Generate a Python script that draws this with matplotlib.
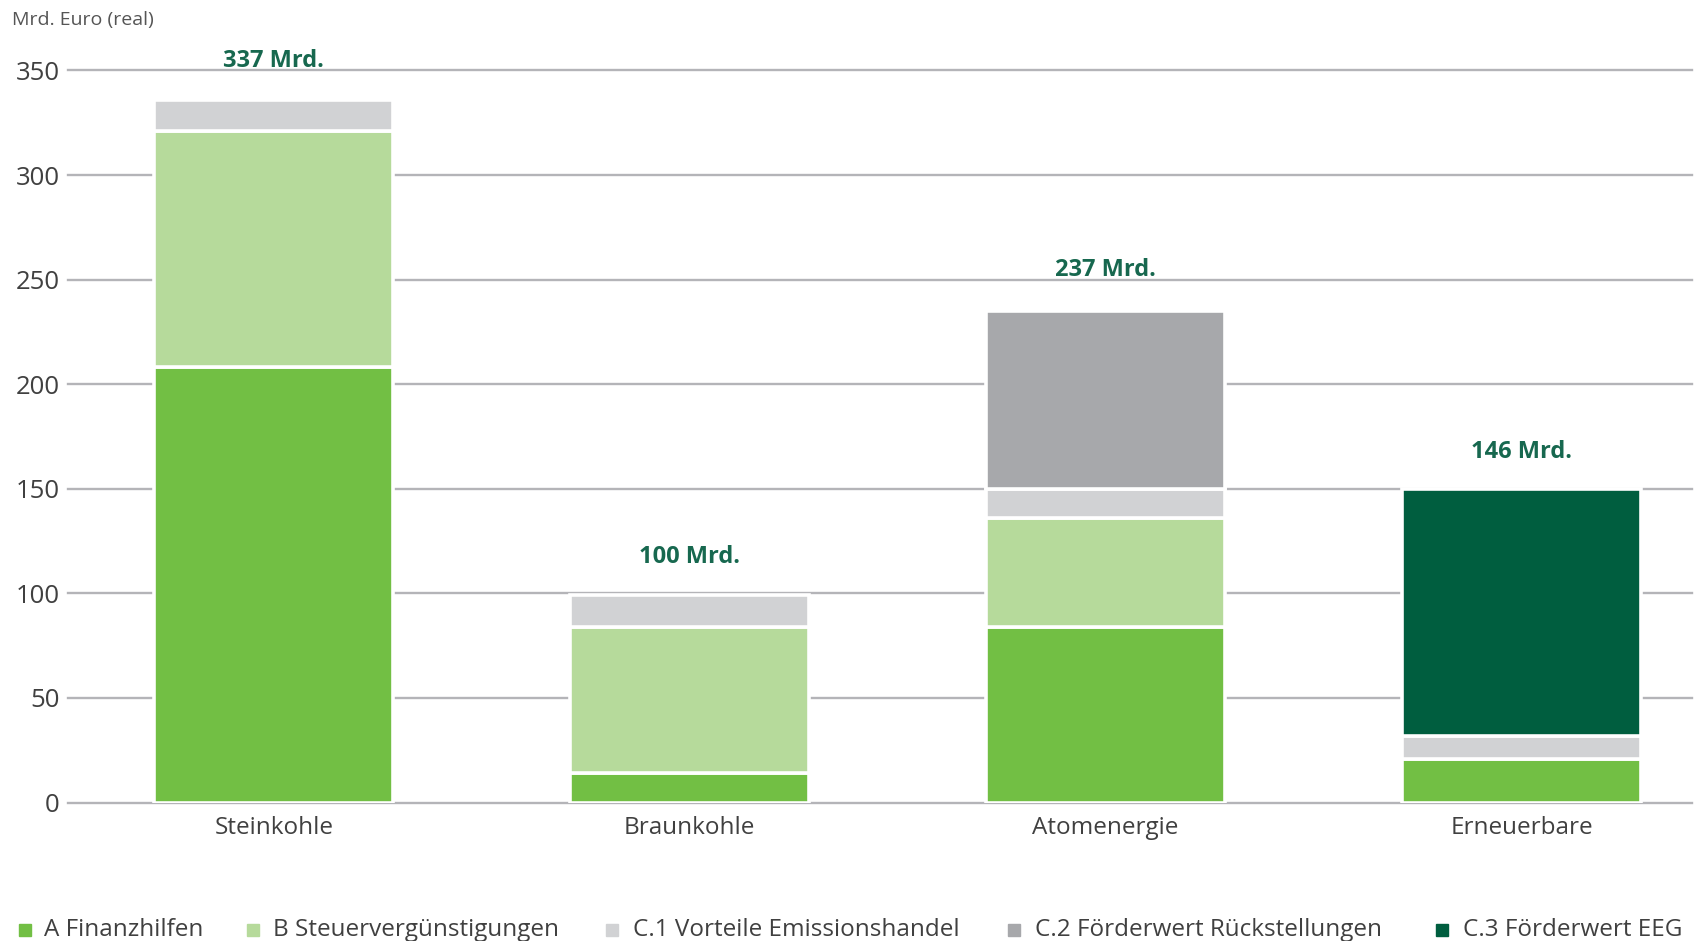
import matplotlib
matplotlib.use("Agg")
import matplotlib.pyplot as plt
from matplotlib.patches import Rectangle
import numpy as np

plt.rcParams['font.family'] = ['Open Sans', 'DejaVu Sans']

categories = ["Steinkohle", "Braunkohle", "Atomenergie", "Erneuerbare"]
series_names = ["A Finanzhilfen", "B Steuervergünstigungen", "C.1 Vorteile Emissionshandel",
                "C.2 Förderwert Rückstellungen", "C.3 Förderwert EEG"]
A_finanzhilfen = [208, 14, 84, 21]
B_steuer = [113, 70, 52, 0]
C1_emission = [15, 15, 14, 11]
C2_rueckstellungen = [0, 0, 85, 0]
C3_eeg = [0, 0, 0, 118]
total_labels = [337, 100, 237, 146]
yticks = [0, 50, 100, 150, 200, 250, 300, 350]

colors = ["#72bf44", "#b6da9b", "#d1d2d4", "#a7a8ab", "#005e3f"]
text_col = "#404040"
label_col = "#17684f"

W, H = 1703, 941
fig = plt.figure(figsize=(W / 100, H / 100), dpi=100)
left, right = 68 / W, 1692 / W
bottom, top = 1 - 802.5 / H, 1 - 70.5 / H
ax = fig.add_axes([left, bottom, right - left, top - bottom])

x = np.arange(len(categories))
ax.set_xlim(-0.495, 3.41)
ax.set_ylim(0, 350)

for v in yticks:
    ax.axhline(v, color="#b4b4b8", lw=1.7, zorder=0, clip_on=False)

series = [A_finanzhilfen, B_steuer, C1_emission, C2_rueckstellungen, C3_eeg]
bottoms = np.zeros(len(categories))
for vals, c in zip(series, colors):
    vals = np.array(vals, dtype=float)
    mask = vals > 0
    ax.bar(x[mask], vals[mask], bottom=bottoms[mask], width=0.575, color=c,
           edgecolor="white", linewidth=2.6, zorder=2)
    bottoms += vals

for xi, t, b in zip(x, total_labels, bottoms):
    ax.text(xi, max(t, b) + 17.5, f"{t} Mrd.", ha="center", va="center", fontsize=17,
            fontweight="bold", color=label_col, clip_on=False)

for s in ax.spines.values():
    s.set_visible(False)
ax.set_yticks(yticks)
ax.set_yticklabels([str(v) for v in yticks], fontsize=18.5, color=text_col)
ax.set_xticks(x)
ax.set_xticklabels(categories, fontsize=17.5, color=text_col)
ax.tick_params(axis="y", length=0, pad=6)
ax.tick_params(axis="x", length=0, pad=10)

fig.text(12 / W, 1 - 20 / H, "Mrd. Euro (real)", fontsize=14, color="#555555",
         ha="left", va="center")

# legend
sq_x = [19, 247, 606, 1008, 1436]
tx_x = [44, 273, 633, 1035, 1463]
ly = 930
sq = 12
for name, c, sx, tx in zip(series_names, colors, sq_x, tx_x):
    fig.patches.append(Rectangle((sx / W, 1 - (ly + sq / 2) / H), sq / W, sq / H,
                                 transform=fig.transFigure, color=c))
    fig.text(tx / W, 1 - ly / H, name, fontsize=17.5, color=text_col,
             ha="left", va="center")

fig.savefig("out.png", dpi=100)
